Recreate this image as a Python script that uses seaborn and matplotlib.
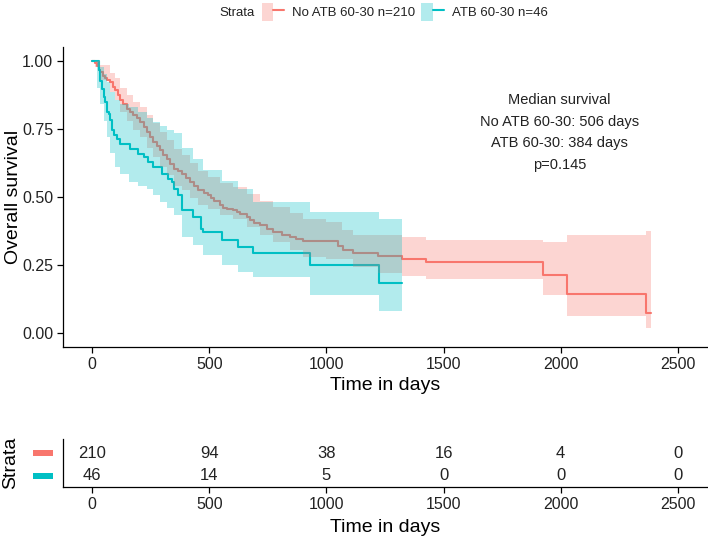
import numpy as np
import pandas as pd
import matplotlib
matplotlib.use("Agg")
import matplotlib.pyplot as plt
import seaborn as sns
from matplotlib.patches import Patch, Rectangle
from matplotlib.lines import Line2D
from matplotlib.legend_handler import HandlerTuple

# ---------------- data ----------------
groups = ["No ATB 60-30", "ATB 60-30"]
group_n = [210, 46]

red_time = [0, 10, 20, 28, 34, 45, 55, 65, 77, 88, 98, 108, 119, 133, 148, 162, 176, 190,
            205, 220, 233, 247, 261, 275, 290, 304, 318, 332, 347, 365, 382, 400, 417, 435,
            453, 475, 496, 506, 520, 545, 558, 575, 602, 616, 630, 659, 673, 690, 716, 744,
            773, 810, 843, 870, 900, 1048, 1070, 1113, 1220, 1323, 1423, 1923, 2027, 2364, 2386]
red_surv = [1.0, 0.99, 0.98, 0.967, 0.958, 0.945, 0.935, 0.928, 0.921, 0.905, 0.891, 0.873,
            0.854, 0.84, 0.824, 0.81, 0.799, 0.788, 0.775, 0.757, 0.738, 0.72, 0.702, 0.688,
            0.671, 0.655, 0.641, 0.622, 0.604, 0.595, 0.586, 0.57, 0.555, 0.54, 0.525, 0.515,
            0.506, 0.495, 0.485, 0.472, 0.461, 0.456, 0.451, 0.446, 0.436, 0.425, 0.415, 0.405,
            0.397, 0.382, 0.372, 0.362, 0.355, 0.345, 0.337, 0.32, 0.305, 0.296, 0.285, 0.274,
            0.26, 0.213, 0.146, 0.073, 0.073]

red_ci_time = [0, 10, 34, 77, 98, 119, 148, 176, 205, 233, 261, 290, 318, 347, 382, 417, 453,
               496, 545, 602, 659, 716, 773, 844, 900, 1000, 1065, 1113, 1220, 1323, 1423,
               1923, 2027, 2364, 2386]
red_upper = [1.0, 1.0, 0.985, 0.955, 0.935, 0.90, 0.875, 0.85, 0.83, 0.80, 0.77, 0.74, 0.71,
             0.675, 0.655, 0.625, 0.595, 0.575, 0.55, 0.535, 0.51, 0.485, 0.465, 0.44, 0.42, 0.41,
             0.378, 0.362, 0.362, 0.355, 0.342, 0.335, 0.36, 0.375, 0.375]
red_lower = [1.0, 0.975, 0.93, 0.885, 0.855, 0.81, 0.78, 0.745, 0.72, 0.68, 0.645, 0.61, 0.58,
             0.54, 0.525, 0.495, 0.47, 0.455, 0.435, 0.42, 0.39, 0.36, 0.335, 0.305, 0.28, 0.271,
             0.271, 0.242, 0.223, 0.212, 0.198, 0.14, 0.063, 0.02, 0.02]

teal_time = [0, 27, 34, 41, 48, 55, 62, 70, 77, 84, 91, 105, 119, 162, 197, 219, 240, 261,
             297, 325, 340, 347, 365, 384, 432, 465, 473, 553, 623, 688, 929, 1223, 1324]
teal_surv = [1.0, 0.964, 0.927, 0.897, 0.866, 0.848, 0.811, 0.805, 0.781, 0.744, 0.726, 0.714,
             0.695, 0.677, 0.659, 0.647, 0.628, 0.610, 0.586, 0.567, 0.555, 0.531, 0.509, 0.452,
             0.428, 0.384, 0.373, 0.342, 0.318, 0.293, 0.249, 0.183, 0.183]

teal_ci_time = [0, 20, 34, 48, 62, 77, 98, 119, 155, 197, 233, 261, 290, 318, 347, 384, 432,
                473, 553, 623, 688, 929, 1223, 1324]
teal_upper = [1.0, 0.995, 0.975, 0.95, 0.92, 0.885, 0.855, 0.84, 0.83, 0.81, 0.79, 0.775, 0.76,
              0.745, 0.735, 0.68, 0.64, 0.60, 0.56, 0.53, 0.48, 0.446, 0.419, 0.419]
teal_lower = [1.0, 0.90, 0.84, 0.78, 0.72, 0.66, 0.61, 0.585, 0.555, 0.54, 0.531, 0.506, 0.482,
              0.458, 0.433, 0.354, 0.323, 0.287, 0.25, 0.226, 0.207, 0.139, 0.082, 0.082]

risk_times = [0, 500, 1000, 1500, 2000, 2500]
risk_red = [210, 94, 38, 16, 4, 0]
risk_teal = [46, 14, 5, 0, 0, 0]

median_red = 506
median_teal = 384
p_value = 0.145

x_ticks = [0, 500, 1000, 1500, 2000, 2500]
y_ticks = [0.0, 0.25, 0.5, 0.75, 1.0]

# ---------------- style ----------------
RED = "#F8766D"
TEAL = "#00BFC4"
sns.set_theme(style="ticks")
plt.rcParams["font.family"] = ["Liberation Sans", "DejaVu Sans"]
plt.rcParams["axes.edgecolor"] = "black"
plt.rcParams["axes.linewidth"] = 0.9

W, H = 708, 537
fig = plt.figure(figsize=(W / 100, H / 100), dpi=100)
ax = fig.add_axes([63 / W, 1 - 347 / H, 644 / W, 300 / H])
rt = fig.add_axes([63 / W, 1 - 487 / H, 644 / W, 48 / H])

df = pd.concat([
    pd.DataFrame({"time": red_time, "surv": red_surv, "group": groups[0]}),
    pd.DataFrame({"time": teal_time, "surv": teal_surv, "group": groups[1]}),
])

sns.lineplot(data=df, x="time", y="surv", hue="group", palette={groups[0]: RED, groups[1]: TEAL},
             estimator=None, drawstyle="steps-post", linewidth=1.5, legend=False, ax=ax, zorder=2)

ax.fill_between(red_ci_time, red_lower, red_upper, step="post", color=RED, alpha=0.3, lw=0, zorder=3)
ax.fill_between(teal_ci_time, teal_lower, teal_upper, step="post", color=TEAL, alpha=0.3, lw=0, zorder=3)

ax.set_xlim(-125, 2625)
ax.set_ylim(-0.05, 1.05)
ax.set_xticks(x_ticks)
ax.set_yticks(y_ticks)
ax.set_yticklabels([f"{v:.2f}" for v in y_ticks])
ax.tick_params(axis="both", labelsize=11.5, length=4, width=0.9, color="black", labelcolor="#222222", pad=3)
sns.despine(ax=ax)
ax.set_xlabel("Time in days", fontsize=14, color="black", va="center")
ax.xaxis.set_label_coords(0.5, -(386 - 347) / 300)
ax.set_ylabel("Overall survival", fontsize=14, color="black", va="center")
ax.yaxis.set_label_coords(-(63 - 13) / 644, 0.5)

ann = (f"Median survival\n{groups[0]}: {median_red} days\n"
       f"{groups[1]}: {median_teal} days\np={p_value}")
ax.text(1995, 0.737, ann, ha="center", va="center", fontsize=10.5, linespacing=1.68, color="#222222")

# legend at the top
fig.text(237 / W, 1 - 13 / H, "Strata", ha="center", va="center", fontsize=9.5, color="#222222")
handles = [
    (Patch(facecolor=RED, alpha=0.3, lw=0), Line2D([0], [0], color=RED, lw=1.5)),
    (Patch(facecolor=TEAL, alpha=0.3, lw=0), Line2D([0], [0], color=TEAL, lw=1.5)),
]
labels = [f"{g} n={n}" for g, n in zip(groups, group_n)]
fig.legend(handles, labels, handler_map={tuple: HandlerTuple(ndivide=None)},
           loc="center left", bbox_to_anchor=(262 / W, 1 - 12 / H), ncol=2, frameon=False,
           fontsize=9.5, handlelength=1.7, handleheight=1.7, handletextpad=0.6,
           columnspacing=0.45, borderaxespad=0, borderpad=0, labelcolor="#222222")

# risk table
for t, r, b in zip(risk_times, risk_red, risk_teal):
    rt.text(t, 2, str(r), ha="center", va="center", fontsize=12, color="#222222")
    rt.text(t, 1, str(b), ha="center", va="center", fontsize=12, color="#222222")
rt.set_xlim(-125, 2625)
rt.set_ylim(0.5, 2.62)
rt.set_xticks(x_ticks)
rt.set_yticks([])
rt.tick_params(axis="x", labelsize=11.5, length=4, width=0.9, color="black", labelcolor="#222222", pad=3)
sns.despine(ax=rt)
rt.set_xlabel("Time in days", fontsize=14, color="black", va="center")
rt.xaxis.set_label_coords(0.5, -(527 - 487) / 48)
rt.set_ylabel("Strata", fontsize=14, color="black", va="center")
rt.yaxis.set_label_coords(-(63 - 11) / 644, 0.5)
for yv, col in [(2, RED), (1, TEAL)]:
    rt.add_patch(Rectangle((-30 / 644, yv - 0.14), 20 / 644, 0.28, transform=rt.get_yaxis_transform(),
                           facecolor=col, lw=0, clip_on=False))

fig.savefig("out.png", dpi=100, facecolor="white")
